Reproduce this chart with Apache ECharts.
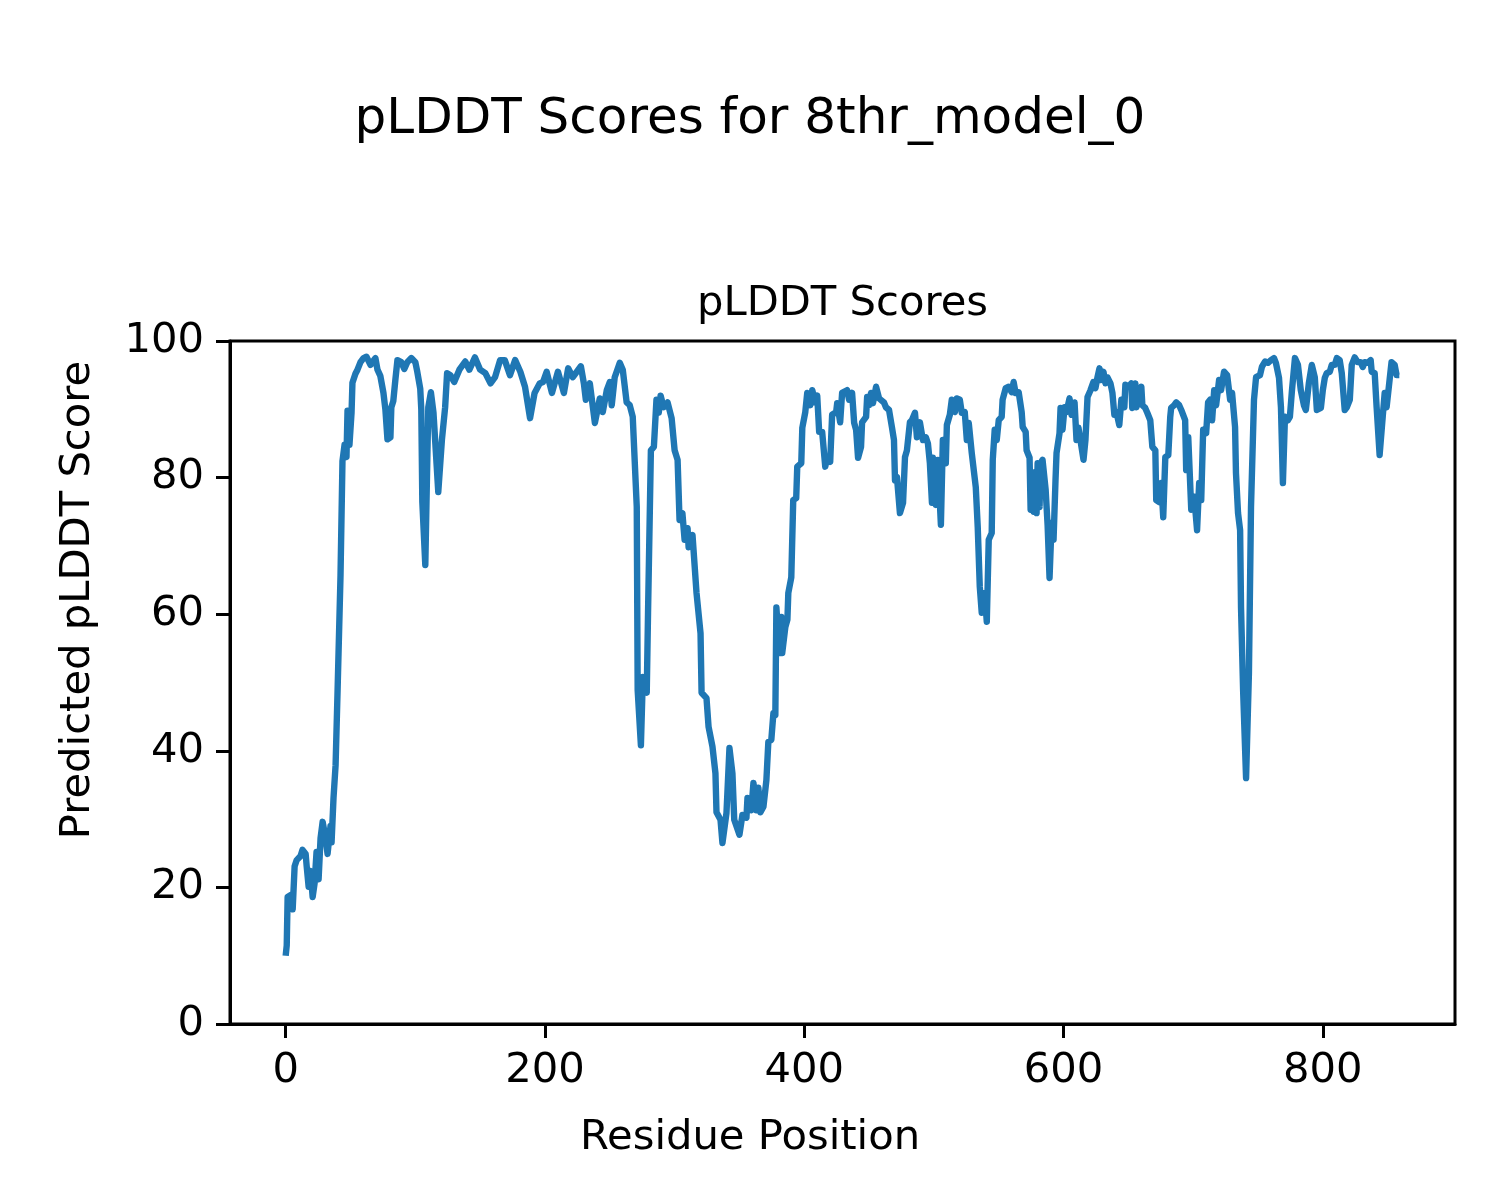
<!DOCTYPE html>
<html>
<head>
<meta charset="utf-8">
<script src="https://cdn.jsdelivr.net/npm/echarts@6/dist/echarts.min.js"></script>
<style>
html,body{margin:0;padding:0;background:#fff;}
#chart{width:1500px;height:1200px;}
</style>
</head>
<body>
<div id="chart"></div>
<script>
// Residue positions (x) and predicted pLDDT scores (y)
const residues = [
0,0.8,1.5,4,5.4,6.9,8.5,11.5,13,15.4,16.2,17.7,19.2,20.8,22.3,23.8,25.4,26.9,28.5,30.8,32.3,34.6,35.4,36.9,38.5,40,42.3,43.8,45.4,46.9,47.7,49.2,50.8,51.5,53.8,55.4,57.7,60,62.3,65.4,66.9,69.2,70.8,73,75.4,76.9,78.5,80.8,81.5,83,84.6,86.2,89.2,91.5,93.8,96.9,100,101.5,103.8,104.6,105.4,107.7,
110,112,114,117.7,120.5,123,124.5,127,130,134,138.5,141.7,146,150,154,158,161.5,165.4,169,173,177,181,184.6,188.5,192,196,198.5,201.3,205.4,210,214.6,217.9,221.5,227.7,230,231.5,234.6,238.5,242.3,244.6,247.7,250,251.5,253.8,257.7,260,263,265.4,267.7,270.8,
271.5,274,275.5,278.5,279.5,281.7,284,286,287.8,289.2,291.5,294.6,297.7,300,302.3,303.8,306,307.7,310,310.8,313.8,316.9,320,320.8,324.6,326.2,329.2,331.5,332.3,335.4,336.9,340,342.3,344.6,346,350,352.3,355.4,356.2,359.2,360.8,363,364.6,366.2,368.5,370.8,372.3,374.6,376.2,377.7,378.5,380.8,382.3,383,385.4,387,387.7,390,391.5,393.8,394.6,397.7,398.5,400.8,
402.3,404.6,406.2,408.5,410,411.5,413.8,416.2,417.7,420,421.5,424.6,425.4,427.7,429.2,433,434.6,436.9,438.5,440,441.5,443.8,444.6,447.7,448.5,450,451.5,453,455.4,457.7,461.5,463,465.4,467.7,469.2,470,471.5,473.8,476.2,477.7,479.2,481.5,483,485.4,486.9,489.2,491.5,493.8,495.4,496.9,498.5,499.2,501.5,503,505.4,506.9,509.2,510,512.3,513.8,516.2,517.7,520,521.5,523.8,525.4,526.9,529.2,532.3,533.8,535.4,536.9,539.2,540.8,542.3,544.6,545.4,546.9,548.5,550,
552.3,553,555.4,557.7,560,561.5,563,565.4,567.7,568.5,570.8,571.5,573.8,574.6,576.2,576.9,578.5,579.2,580,581.5,582.3,583.8,586.2,587.7,589.2,590.8,592.3,593.8,594.6,596.9,597.7,599.2,600.8,602.3,604.6,606.2,608.5,610,611.5,613,615.4,616.9,618.5,620.8,623,624.6,626.2,627.7,629.2,630.8,632.3,633.8,636.2,637.7,639.2,640.8,643,644.6,646.9,647.7,650,652.3,653,655.4,656.2,658.5,660,660.8,663,664.6,666.9,668.5,670.8,671.5,673.8,675.4,676.9,678.5,680.8,682.3,683,685.4,686.9,689.2,690.8,693.8,694.6,696.2,
698.5,700.8,703,704.6,706.2,707.7,710,711.5,713,714.6,716.2,717.7,720,721.5,723.8,726.2,728.5,730,732.3,733,734.6,736.2,736.9,738.5,740.8,743,744.6,746.9,748.5,751.5,753,755.4,757.7,760,762.3,763.8,766.2,767.7,769.2,770.8,773,774.6,776.2,778.5,780.8,783,785.4,786.9,789.2,791.5,793.8,795.4,798.5,800,801.5,803,805.4,806.9,809.2,810.8,813,814.6,816.9,818.5,820.8,822.3,824.6,826.9,829.2,830.8,832.3,834.6,836.9,837.7,840,841.5,843.8,846.2,847.7,849.2,851.5,853,855.4,856.9,859
];
const scores = [
10,11.5,18.6,18.9,16.8,23.1,24,24.6,25.5,24.9,23.1,20.1,22.4,18.6,20.6,25.2,21.2,27.2,29.6,27.2,24.9,29,26.6,33.1,37.9,48.6,65.7,82.4,84.8,83,89.8,84.8,89.5,93.9,95.2,95.8,96.9,97.5,97.7,96.5,96.9,97.5,95.8,94.9,92.4,90,85.6,85.9,90.3,91.2,94.3,97.2,96.9,95.9,96.9,97.5,96.9,95.5,93,90,76.4,67.2,
90.3,92.5,89.5,77.9,85.5,90.3,95.3,95,94,95.8,97,95.8,97.6,95.8,95.3,93.8,94.7,97.2,97.2,95,97.2,95.5,93.3,88.7,92.4,93.8,94,95.5,92.4,95.5,92.4,96,94.7,96.3,93.8,91.4,93.8,88,91.6,89.6,92.8,94,90.6,94.7,96.8,95.8,91,90.6,88.9,75.7,
48.9,40.8,50.8,48.5,60.2,84,84.5,91.4,89.5,92,90.3,91,88.7,84,82.6,73.8,74.8,70.9,72.6,69.8,71.6,63.1,57.2,48.5,47.7,43.5,40.6,36.7,31,29.9,26.5,30.9,40.4,36.7,29.9,27.7,30.6,30.2,33.1,31.3,35.3,31.3,34.6,31,31.8,35.7,41.3,41.6,45.5,45.2,61,54.3,59.6,54.3,58.1,59.2,63.1,65.4,76.7,77,81.6,82.1,87.3,89.6,
92.4,90.6,92.8,91,92,86.7,86.7,81.6,83,82.3,89.2,89.6,90.9,88.1,92.4,92.8,91.4,92.4,88,87,82.9,84.5,88.1,88.9,91.8,90.6,92.4,90.9,93.3,91.6,91,90.3,89.9,87.3,85.5,79.6,80.1,74.8,76.3,83,84,88.1,88.4,89.5,85.9,88.1,85.5,85.9,85,82.1,76.3,82.9,76,82.6,73.1,85.5,82.1,87.7,89.2,91.4,89.6,91.6,91.4,89.5,89.6,85.5,88,83.6,78.6,72.8,64,60.2,63.1,58.9,70.9,71.9,82.6,87,85.5,88.4,
88.9,91.4,93.1,93.3,92.5,94,92.4,92.5,89.6,87.4,86.7,84,82.9,75.3,80.8,75,78.6,74.8,82.1,75.7,82.1,82.6,78.2,73.1,65.3,73.4,70.9,79.6,83.6,86.5,90.2,87,90.3,89.6,91.6,89.2,91,85.5,87.3,85.5,82.6,85.5,91.8,92.8,94,93.1,94.7,96,94.3,95.5,93.8,94.7,93.8,92.4,89.2,89.6,87.7,91.4,90.3,93.6,93.3,93.8,90.2,93.8,90.3,92.4,93.3,90.6,90.2,89.5,88.4,84.5,84,76.7,76.4,79.2,74.2,83,83.3,88.9,90.2,90.6,91,90.6,89.9,88.4,81.1,85.9,
75.3,77.2,72.3,79.2,76.7,87,86.5,91,91.4,88.4,92.8,90.6,94.3,92.8,95.5,95,91.4,92.4,87.4,80.7,74.8,72.3,61,48.9,36,51.4,75.7,91.4,94.7,95,96.2,97,96.8,97.2,97.5,96.8,94.6,90.3,79.2,88.9,88.4,88.9,92.8,97.5,96.5,92.8,90.6,89.9,93.8,96.5,94.7,89.9,90.2,92.8,94.6,95.3,95.5,96.5,96.5,97.5,97.2,95.3,89.9,90.3,91.4,96.5,97.6,96.9,96.9,96.2,96.9,96.8,97.2,95.5,95.3,90.3,83.3,88.9,92.4,90.3,94.3,96.9,96.5,95,95
];
const xTicks = [0, 200, 400, 600, 800];
const yTicks = [0, 20, 40, 60, 80, 100];

const FONT = 'DejaVu Sans';
const chart = echarts.init(document.getElementById('chart'), null, {renderer: 'canvas'});
const points = residues.map((r, i) => [r, scores[i]]);

chart.setOption({
  animation: false,
  backgroundColor: '#ffffff',
  grid: {
    left: 230, right: 45, top: 341, bottom: 176,
    show: true, borderColor: '#000', borderWidth: 3, backgroundColor: 'transparent'
  },
  xAxis: {
    type: 'value',
    min: -42.95, max: 901.95,
    splitLine: {show: false},
    axisLine: {show: true, onZero: false, lineStyle: {color: '#000', width: 3}},
    axisTick: {show: true, inside: false, customValues: xTicks, length: 14, lineStyle: {color: '#000', width: 3}},
    axisLabel: {show: true, customValues: xTicks, margin: 26, fontFamily: FONT, fontSize: 41.7, color: '#000'}
  },
  yAxis: {
    type: 'value',
    min: 0, max: 100, interval: 20,
    splitLine: {show: false},
    axisLine: {show: true, onZero: false, lineStyle: {color: '#000', width: 3}},
    axisTick: {show: true, inside: false, customValues: yTicks, length: 14, lineStyle: {color: '#000', width: 3}},
    axisLabel: {show: true, customValues: yTicks, margin: 26, fontFamily: FONT, fontSize: 41.7, color: '#000'}
  },
  series: [{
    type: 'line',
    data: points,
    showSymbol: false,
    symbol: 'none',
    lineStyle: {color: '#1f77b4', width: 6.4, join: 'round', cap: 'butt'},
    itemStyle: {color: '#1f77b4'},
    silent: true
  }],
  graphic: [
    {type: 'text', x: 750, y: 120, style: {text: 'pLDDT Scores for 8thr_model_0', font: '50px "DejaVu Sans"', fill: '#000', align: 'center', verticalAlign: 'middle'}},
    {type: 'text', x: 842.5, y: 304, style: {text: 'pLDDT Scores', font: '41.7px "DejaVu Sans"', fill: '#000', align: 'center', verticalAlign: 'middle'}},
    {type: 'text', x: 750, y: 1138, style: {text: 'Residue Position', font: '41.7px "DejaVu Sans"', fill: '#000', align: 'center', verticalAlign: 'middle'}},
    {type: 'text', x: 78, y: 600, rotation: Math.PI / 2, style: {text: 'Predicted pLDDT Score', font: '41.7px "DejaVu Sans"', fill: '#000', align: 'center', verticalAlign: 'middle'}}
  ]
});
</script>
</body>
</html>
